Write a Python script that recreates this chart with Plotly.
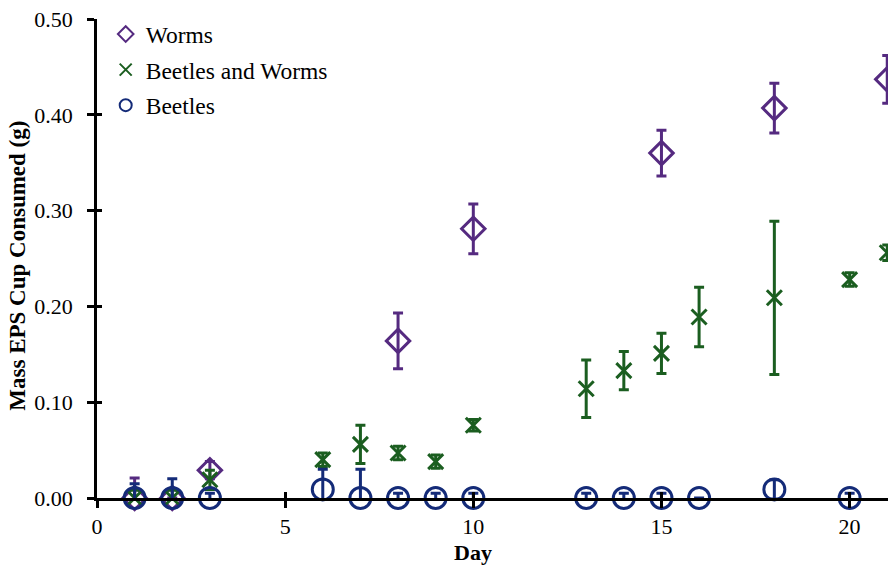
import plotly.graph_objects as go

# Mass of EPS cup consumed per day for each feeding group
worms_day = [1, 2, 3, 8, 10, 15, 18, 21]
worms_mass = [0.000, 0.000, 0.029, 0.164, 0.281, 0.360, 0.407, 0.437]
worms_err = [0.021, 0.000, 0.009, 0.029, 0.026, 0.024, 0.026, 0.025]

bw_day = [1, 2, 3, 6, 7, 8, 9, 10, 13, 14, 15, 16, 18, 20, 21]
bw_mass = [0.000, 0.000, 0.019, 0.040, 0.056, 0.047, 0.038, 0.076,
           0.114, 0.133, 0.151, 0.189, 0.209, 0.228, 0.256]
bw_err = [0.008, 0.008, 0.010, 0.007, 0.020, 0.007, 0.007, 0.006,
          0.030, 0.020, 0.021, 0.031, 0.080, 0.007, 0.008]

beetles_day = [1, 2, 3, 6, 7, 8, 9, 10, 13, 14, 15, 16, 18, 20]
beetles_mass = [0.000, 0.000, 0.000, 0.009, 0.000, 0.000, 0.000, 0.000,
                0.000, 0.000, 0.000, 0.000, 0.009, 0.000]
beetles_err = [0.015, 0.020, 0.005, 0.021, 0.030, 0.005, 0.005, 0.005,
               0.005, 0.005, 0.005, 0.000, 0.010, 0.005]

y_ticks = [0.0, 0.1, 0.2, 0.3, 0.4, 0.5]
x_ticks = [0, 5, 10, 15, 20]

PURPLE = "#552a80"
GREEN = "#1b5e20"
NAVY = "#142b78"
SERIF = "Liberation Serif, Times New Roman, serif"

fig = go.Figure()

def add_series(name, x, y, err, symbol, size, color, group):
    fig.add_trace(go.Scatter(
        x=x, y=y, name=name, mode="markers", legendgroup=group,
        marker=dict(symbol=symbol, size=size, color=color,
                    line=dict(color=color, width=3)),
        error_y=dict(type="data", array=err, visible=True,
                     color=color, thickness=3, width=5),
        cliponaxis=False,
    ))

add_series("Worms", worms_day, worms_mass, worms_err,
           "diamond-open", 18, PURPLE, "a")
add_series("Beetles and Worms", bw_day, bw_mass, bw_err,
           "x-thin", 15, GREEN, "b")
add_series("Beetles", beetles_day, beetles_mass, beetles_err,
           "circle-open", 21, NAVY, "c")

# invisible trace on overlay axes so the inward half of each tick is drawn
fig.add_trace(go.Scatter(x=[None], y=[None], xaxis="x2", yaxis="y2",
                         showlegend=False, hoverinfo="skip"))

x_range = [0, 21.02]
y_range = [0, 0.5]

fig.update_layout(
    width=888, height=565,
    margin=dict(l=97, r=0, t=19, b=67),
    paper_bgcolor="white", plot_bgcolor="white",
    font=dict(family=SERIF, size=22, color="black"),
    showlegend=True,
    legend=dict(x=0.011, y=1.014, xanchor="left", yanchor="top",
                font=dict(family=SERIF, size=23.5, color="black"),
                bgcolor="rgba(0,0,0,0)", tracegroupgap=2,
                traceorder="grouped", itemsizing="constant"),
    xaxis=dict(range=x_range, tickvals=x_ticks, showgrid=False, zeroline=False,
               showline=True, linecolor="black", linewidth=2.5,
               ticks="outside", ticklen=7, tickwidth=2.5, tickcolor="black",
               tickfont=dict(size=22), fixedrange=True),
    yaxis=dict(range=y_range, tickvals=y_ticks, tickformat=".2f",
               showgrid=False, zeroline=False,
               showline=True, linecolor="black", linewidth=2.5,
               ticks="outside", ticklen=7, tickwidth=2.5, tickcolor="black",
               tickfont=dict(size=22), ticklabelstandoff=10),
    xaxis2=dict(range=x_range, tickvals=x_ticks, overlaying="x",
                showgrid=False, zeroline=False, showline=False,
                ticks="inside", ticklen=6, tickwidth=2.5, tickcolor="black",
                showticklabels=False),
    yaxis2=dict(range=y_range, tickvals=y_ticks, overlaying="y",
                showgrid=False, zeroline=False, showline=False,
                ticks="inside", ticklen=5, tickwidth=2.5, tickcolor="black",
                showticklabels=False),
)

# axis titles
fig.add_annotation(text="<b>Mass EPS Cup Consumed (g)</b>", textangle=-90,
                   x=-79 / 791, xref="paper", y=0.485, yref="paper",
                   xanchor="center", yanchor="middle", showarrow=False,
                   font=dict(family=SERIF, size=23, color="black"))
fig.add_annotation(text="<b>Day</b>", x=10, xref="x", y=-0.113, yref="paper",
                   xanchor="center", yanchor="middle", showarrow=False,
                   font=dict(family=SERIF, size=22, color="black"))

fig.write_html("out.html")
